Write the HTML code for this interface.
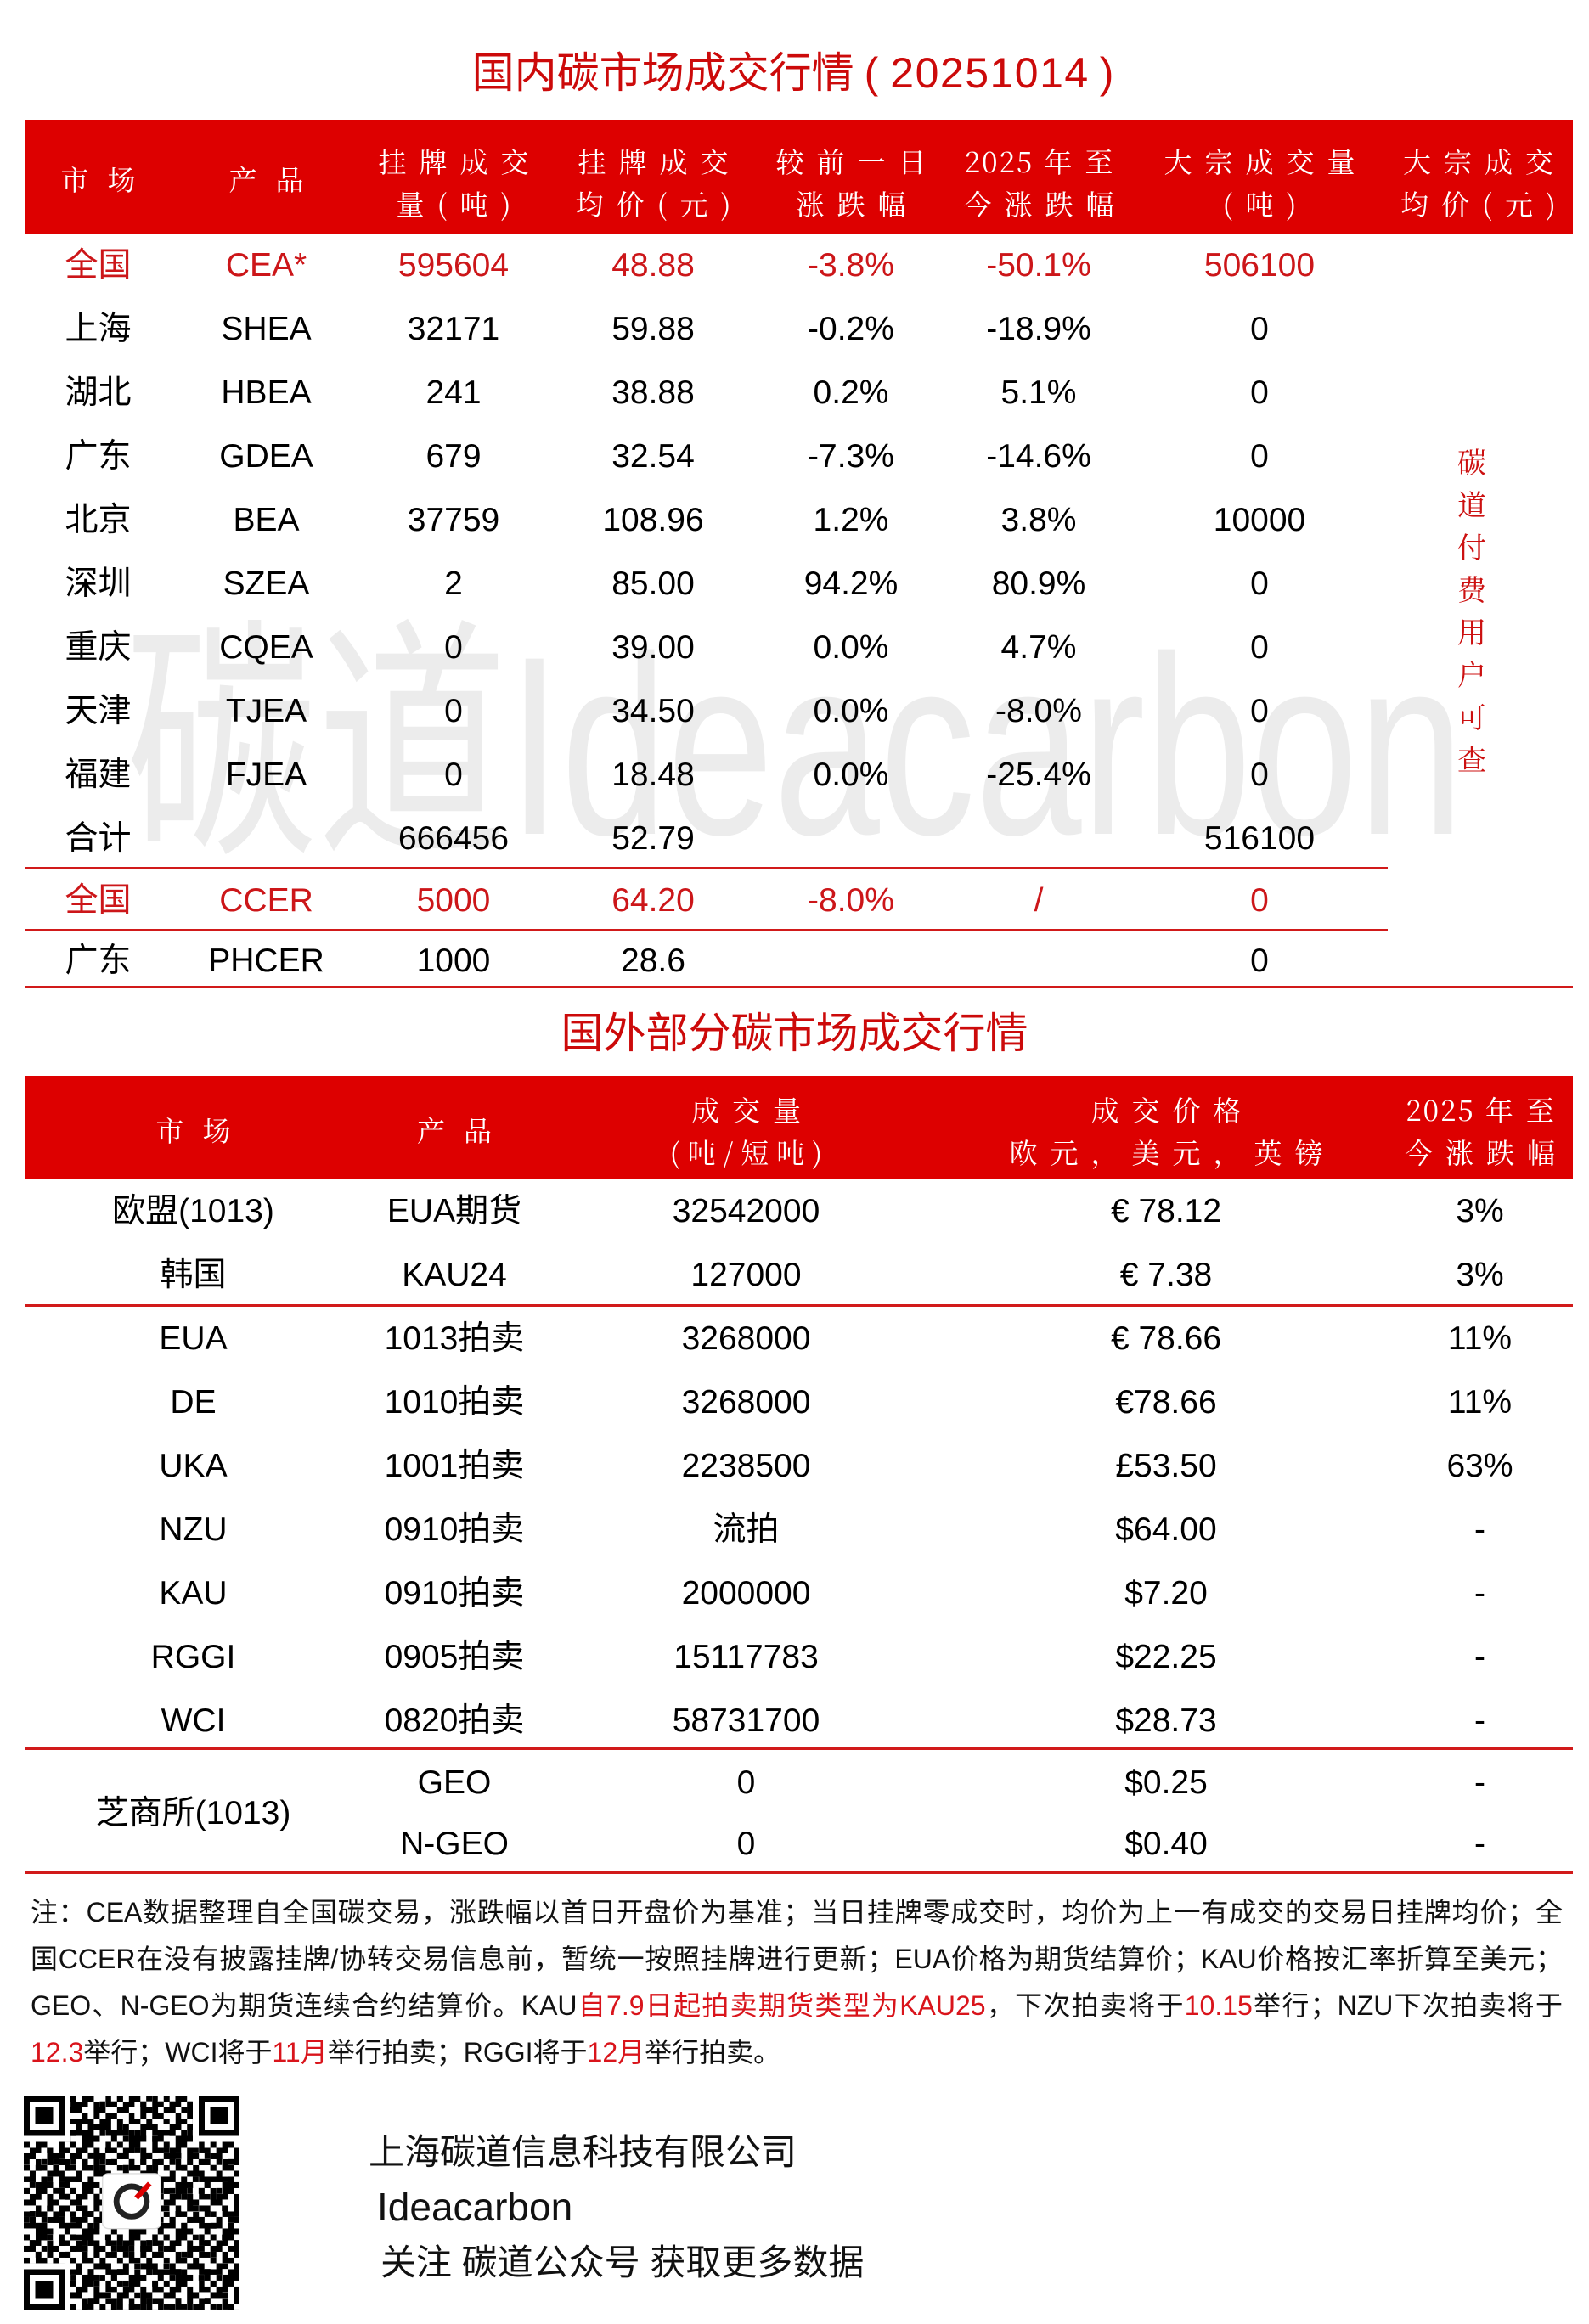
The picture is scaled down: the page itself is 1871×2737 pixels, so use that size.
<!DOCTYPE html>
<html><head><meta charset="utf-8">
<style>
*{margin:0;padding:0;box-sizing:border-box}
html,body{width:1871px;height:2737px;background:#fff;overflow:hidden}
#pg{position:relative;width:1871px;height:2737px;overflow:hidden;font-family:"Liberation Sans","Noto Sans CJK SC",sans-serif;color:#000;background:#fff}
.a{position:absolute;white-space:nowrap}
.t{position:absolute;left:0;width:1871px;text-align:center;font-size:50px;line-height:60px;height:60px;color:#cc0a0a;white-space:nowrap}
.hd{position:absolute;left:29px;width:1823px;background:#dd0000}
.row{position:absolute;left:0;width:1871px;height:50px}
.row>div{position:absolute;top:0;height:50px;line-height:50px;text-align:center;white-space:nowrap;font-size:39px}
.hr{position:absolute;left:0;width:1871px;height:50px}
.hr>div{position:absolute;top:0;height:50px;line-height:50px;text-align:center;white-space:nowrap;color:#fff;font-family:"Noto Serif CJK SC","Noto Sans CJK SC",serif;font-size:33px;letter-spacing:15px;padding-left:15px}
.hr>div.w{letter-spacing:22px;padding-left:22px}
.hr .n{letter-spacing:2px;margin-right:12px}
.r>div{color:#cc1619}
.k1{left:29px;width:173px}.k2{left:202px;width:223px}.k3{left:425px;width:218px}.k4{left:643px;width:252px}.k5{left:895px;width:214px}.k6{left:1109px;width:228px}.k7{left:1337px;width:292px}.k8{left:1629px;width:223px}
.f1{left:29px;width:397px}.f2{left:426px;width:218px}.f3{left:644px;width:469px}.f4{left:1113px;width:520px}.f5{left:1633px;width:219px}
.ln{position:absolute;height:3px;background:#d11a1a}
.wm{position:absolute;left:148px;top:728px;font-size:300px;line-height:300px;height:300px;color:#ececec;transform:scaleX(0.75);transform-origin:0 0;white-space:nowrap}
.side{position:absolute;left:1708px;top:518px;width:50px;text-align:center;font-family:"Noto Serif CJK SC","Noto Sans CJK SC",serif;font-size:34px;line-height:50px;color:#cc1010}
.fn{position:absolute;left:36px;top:2225px;width:1804px;font-size:32px;line-height:55px;color:#111}
.fn>div{height:55px;overflow:hidden}
.j{text-align:justify;text-align-last:justify}
.rr{color:#d9141b}
.ft{position:absolute;font-size:42px;line-height:60px;height:60px;color:#111;white-space:nowrap}
</style></head>
<body><div id="pg">

<div class="wm">碳道Ideacarbon</div>

<div class="t" style="top:56px">国内碳市场成交行情<span style="margin:0 14px 0 12px">(</span><span style="letter-spacing:1.5px">20251014</span><span style="margin:0 4px 0 12px">)</span></div>

<div class="hd" style="top:141px;height:135px"></div>
<div class="hr" style="top:186px"><div class="k1 w">市场</div><div class="k2 w">产品</div></div>
<div class="hr" style="top:165px"><div class="k3">挂牌成交</div><div class="k4">挂牌成交</div><div class="k5">较前一日</div><div class="k6"><span class="n">2025</span>年至</div><div class="k7">大宗成交量</div><div class="k8">大宗成交</div></div>
<div class="hr" style="top:215px"><div class="k3">量(吨)</div><div class="k4">均价(元)</div><div class="k5">涨跌幅</div><div class="k6">今涨跌幅</div><div class="k7">(吨)</div><div class="k8">均价(元)</div></div>

<div class="row r" style="top:288px"><div class="k1">全国</div><div class="k2">CEA*</div><div class="k3">595604</div><div class="k4">48.88</div><div class="k5">-3.8%</div><div class="k6">-50.1%</div><div class="k7">506100</div></div>
<div class="row" style="top:363px"><div class="k1">上海</div><div class="k2">SHEA</div><div class="k3">32171</div><div class="k4">59.88</div><div class="k5">-0.2%</div><div class="k6">-18.9%</div><div class="k7">0</div></div>
<div class="row" style="top:438px"><div class="k1">湖北</div><div class="k2">HBEA</div><div class="k3">241</div><div class="k4">38.88</div><div class="k5">0.2%</div><div class="k6">5.1%</div><div class="k7">0</div></div>
<div class="row" style="top:513px"><div class="k1">广东</div><div class="k2">GDEA</div><div class="k3">679</div><div class="k4">32.54</div><div class="k5">-7.3%</div><div class="k6">-14.6%</div><div class="k7">0</div></div>
<div class="row" style="top:588px"><div class="k1">北京</div><div class="k2">BEA</div><div class="k3">37759</div><div class="k4">108.96</div><div class="k5">1.2%</div><div class="k6">3.8%</div><div class="k7">10000</div></div>
<div class="row" style="top:663px"><div class="k1">深圳</div><div class="k2">SZEA</div><div class="k3">2</div><div class="k4">85.00</div><div class="k5">94.2%</div><div class="k6">80.9%</div><div class="k7">0</div></div>
<div class="row" style="top:738px"><div class="k1">重庆</div><div class="k2">CQEA</div><div class="k3">0</div><div class="k4">39.00</div><div class="k5">0.0%</div><div class="k6">4.7%</div><div class="k7">0</div></div>
<div class="row" style="top:813px"><div class="k1">天津</div><div class="k2">TJEA</div><div class="k3">0</div><div class="k4">34.50</div><div class="k5">0.0%</div><div class="k6">-8.0%</div><div class="k7">0</div></div>
<div class="row" style="top:888px"><div class="k1">福建</div><div class="k2">FJEA</div><div class="k3">0</div><div class="k4">18.48</div><div class="k5">0.0%</div><div class="k6">-25.4%</div><div class="k7">0</div></div>
<div class="row" style="top:963px"><div class="k1">合计</div><div class="k3">666456</div><div class="k4">52.79</div><div class="k7">516100</div></div>
<div class="ln" style="top:1021px;left:29px;width:1605px"></div>
<div class="row r" style="top:1036px"><div class="k1">全国</div><div class="k2">CCER</div><div class="k3">5000</div><div class="k4">64.20</div><div class="k5">-8.0%</div><div class="k6">/</div><div class="k7">0</div></div>
<div class="ln" style="top:1094px;left:29px;width:1605px"></div>
<div class="row" style="top:1107px"><div class="k1">广东</div><div class="k2">PHCER</div><div class="k3">1000</div><div class="k4">28.6</div><div class="k7">0</div></div>
<div class="ln" style="top:1161px;left:29px;width:1823px"></div>

<div class="side">碳<br>道<br>付<br>费<br>用<br>户<br>可<br>查</div>

<div class="t" style="top:1187px">国外部分碳市场成交行情</div>

<div class="hd" style="top:1267px;height:121px"></div>
<div class="hr" style="top:1306px"><div class="f1 w">市场</div><div class="f2 w">产品</div></div>
<div class="hr" style="top:1282px"><div class="f3">成交量</div><div class="f4">成交价格</div><div class="f5"><span class="n">2025</span>年至</div></div>
<div class="hr" style="top:1332px"><div class="f3" style="letter-spacing:9px;padding-left:9px">(吨/短吨)</div><div class="f4">欧元，美元，英镑</div><div class="f5">今涨跌幅</div></div>

<div class="row" style="top:1402px"><div class="f1">欧盟(1013)</div><div class="f2">EUA期货</div><div class="f3">32542000</div><div class="f4">€ 78.12</div><div class="f5">3%</div></div>
<div class="row" style="top:1477px"><div class="f1">韩国</div><div class="f2">KAU24</div><div class="f3">127000</div><div class="f4">€ 7.38</div><div class="f5">3%</div></div>
<div class="ln" style="top:1536px;left:29px;width:1823px"></div>
<div class="row" style="top:1552px"><div class="f1">EUA</div><div class="f2">1013拍卖</div><div class="f3">3268000</div><div class="f4">€ 78.66</div><div class="f5">11%</div></div>
<div class="row" style="top:1627px"><div class="f1">DE</div><div class="f2">1010拍卖</div><div class="f3">3268000</div><div class="f4">€78.66</div><div class="f5">11%</div></div>
<div class="row" style="top:1702px"><div class="f1">UKA</div><div class="f2">1001拍卖</div><div class="f3">2238500</div><div class="f4">£53.50</div><div class="f5">63%</div></div>
<div class="row" style="top:1777px"><div class="f1">NZU</div><div class="f2">0910拍卖</div><div class="f3">流拍</div><div class="f4">$64.00</div><div class="f5">-</div></div>
<div class="row" style="top:1852px"><div class="f1">KAU</div><div class="f2">0910拍卖</div><div class="f3">2000000</div><div class="f4">$7.20</div><div class="f5">-</div></div>
<div class="row" style="top:1927px"><div class="f1">RGGI</div><div class="f2">0905拍卖</div><div class="f3">15117783</div><div class="f4">$22.25</div><div class="f5">-</div></div>
<div class="row" style="top:2002px"><div class="f1">WCI</div><div class="f2">0820拍卖</div><div class="f3">58731700</div><div class="f4">$28.73</div><div class="f5">-</div></div>
<div class="ln" style="top:2058px;left:29px;width:1823px"></div>
<div class="row" style="top:2075px"><div class="f2">GEO</div><div class="f3">0</div><div class="f4">$0.25</div><div class="f5">-</div></div>
<div class="row" style="top:2111px"><div class="f1">芝商所(1013)</div></div>
<div class="row" style="top:2147px"><div class="f2">N-GEO</div><div class="f3">0</div><div class="f4">$0.40</div><div class="f5">-</div></div>
<div class="ln" style="top:2204px;left:29px;width:1823px"></div>

<div class="fn">
<div class="j">注：CEA数据整理自全国碳交易，涨跌幅以首日开盘价为基准；当日挂牌零成交时，均价为上一有成交的交易日挂牌均价；全</div>
<div class="j">国CCER在没有披露挂牌/协转交易信息前，暂统一按照挂牌进行更新；EUA价格为期货结算价；KAU价格按汇率折算至美元；</div>
<div class="j">GEO、N-GEO为期货连续合约结算价。KAU<span class="rr">自7.9日起拍卖期货类型为KAU25</span>，下次拍卖将于<span class="rr">10.15</span>举行；NZU下次拍卖将于</div>
<div><span class="rr">12.3</span>举行；WCI将于<span class="rr">11月</span>举行拍卖；RGGI将于<span class="rr">12月</span>举行拍卖。</div>
</div>

<svg class="a" style="left:28px;top:2468px" width="254" height="252" viewBox="0 0 37 37" preserveAspectRatio="none" shape-rendering="crispEdges">
<defs>
<pattern id="pa" width="8" height="8" patternUnits="userSpaceOnUse"><path d="M0 0h1v1h-1zM2 0h2v1h-2zM6 0h1v1h-1zM1 1h2v1h-2zM4 1h1v1h-1zM6 1h2v1h-2zM0 2h2v1h-2zM4 2h2v1h-2zM2 3h1v1h-1zM4 3h1v1h-1zM6 3h2v1h-2zM0 4h1v1h-1zM2 4h2v1h-2zM5 4h1v1h-1zM1 5h1v1h-1zM4 5h3v1h-3zM0 6h2v1h-2zM3 6h1v1h-1zM6 6h2v1h-2zM2 7h3v1h-3zM7 7h1v1h-1z"/></pattern>
<pattern id="pb" x="1" y="2" width="5" height="5" patternUnits="userSpaceOnUse"><path d="M1 0h1v1h-1zM3 2h1v1h-1zM0 3h1v1h-1zM4 4h1v1h-1zM2 4h1v1h-1z"/></pattern>
</defs>
<rect width="37" height="37" fill="url(#pa)"/>
<rect width="37" height="37" fill="url(#pb)"/>
<rect x="0" y="0" width="8" height="8" fill="#fff"/><rect x="0" y="0" width="7" height="7"/><rect x="1" y="1" width="5" height="5" fill="#fff"/><rect x="2" y="2" width="3" height="3"/>
<rect x="29" y="0" width="8" height="8" fill="#fff"/><rect x="30" y="0" width="7" height="7"/><rect x="31" y="1" width="5" height="5" fill="#fff"/><rect x="32" y="2" width="3" height="3"/>
<rect x="0" y="29" width="8" height="8" fill="#fff"/><rect x="0" y="30" width="7" height="7"/><rect x="1" y="31" width="5" height="5" fill="#fff"/><rect x="2" y="32" width="3" height="3"/>
<rect x="13.5" y="13.5" width="10" height="9.5" rx="1" fill="#fff" stroke="#ddd" stroke-width="0.2" shape-rendering="auto"/>
<circle cx="18.5" cy="18.3" r="2.6" fill="none" stroke="#222" stroke-width="1" shape-rendering="auto"/>
<path d="M19.3 17.7L21.6 15.2" stroke="#d00" stroke-width="0.9" shape-rendering="auto"/>
</svg>

<div class="ft" style="left:434px;top:2505px">上海碳道信息科技有限公司</div>
<div class="ft" style="left:444px;top:2569px;font-size:46px">Ideacarbon</div>
<div class="ft" style="left:448px;top:2635px">关注 碳道公众号 获取更多数据</div>

</div></body></html>
